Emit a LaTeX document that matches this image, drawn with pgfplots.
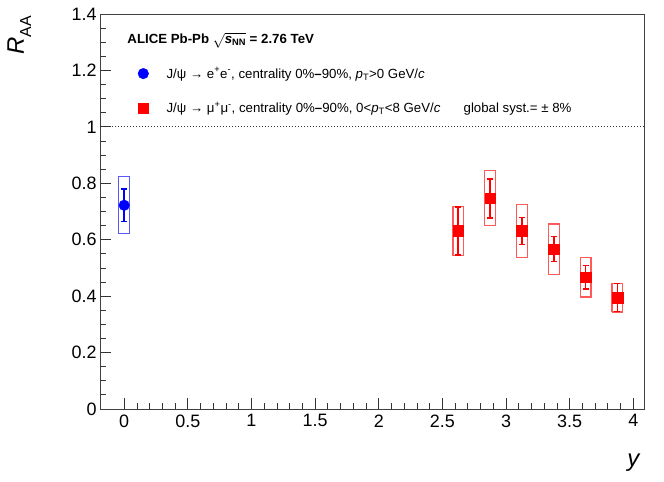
\documentclass[border=0pt]{standalone}
\usepackage{pgfplots}
\pgfplotsset{compat=1.18}
\usepackage{fontspec}
\setmainfont{Liberation Sans}
\begin{document}
\begin{tikzpicture}
\path[use as bounding box] (-100bp,-73bp) rectangle (564bp,409bp);
\begin{axis}[
  at={(0,0)}, anchor=south west,
  scale only axis, width=544bp, height=395bp,
  xmin=-0.19, xmax=4.084, ymin=0, ymax=1.4,
  xtick={0,0.5,...,4}, ytick={0,0.2,...,1.4},
  minor x tick num=4, minor y tick num=3,
  xtick pos=bottom, ytick pos=left, tick align=inside,
  major tick length=11bp, minor tick length=6bp,
  axis line style={black!75, line width=0.9bp},
  every tick/.style={black!80, line width=0.8bp},
  /pgf/number format/assume math mode=true,
  ticklabel style={font=\fontsize{18}{18}\selectfont},
  yticklabel style={/pgf/number format/fixed, /pgf/number format/precision=1},
  xticklabel style={/pgf/number format/fixed, /pgf/number format/precision=1, yshift=-2bp},
  ylabel={\fontsize{24}{24}\selectfont\textit{R}\raisebox{-0.3em}{\fontsize{16}{16}\selectfont AA}},
  ylabel style={at={(axis description cs:-0.14,1.003)}, anchor=base east, rotate=0},
  xlabel={\fontsize{24}{24}\selectfont\textit{y}},
  xlabel style={at={(axis description cs:1,-0.146)}, anchor=base east},
  unbounded coords=jump,
  legend cell align=left,
  legend style={at={(axis description cs:0.064,0.875)}, anchor=north west, draw=none, fill=none,
    font=\fontsize{13.3}{16}\selectfont, row sep=18.5bp, column sep=16bp},
]
% dotted line at 1
\addplot[forget plot, black!80, line width=0.8bp, dash pattern=on 1bp off 2bp] coordinates {(-0.19,1) (4.084,1)};
% systematic boxes
\addplot[forget plot, blue!65, line width=1.2bp] table {
x y
-0.042 0.621
0.042 0.621
0.042 0.823
-0.042 0.823
-0.042 0.621
};
\addplot[forget plot, red!65, line width=1.2bp] table {
x y
2.583 0.543
2.667 0.543
2.667 0.719
2.583 0.719
2.583 0.543
nan nan
2.833 0.650
2.917 0.650
2.917 0.844
2.833 0.844
2.833 0.650
nan nan
3.083 0.536
3.167 0.536
3.167 0.726
3.083 0.726
3.083 0.536
nan nan
3.333 0.478
3.417 0.478
3.417 0.656
3.333 0.656
3.333 0.478
nan nan
3.583 0.397
3.667 0.397
3.667 0.537
3.583 0.537
3.583 0.397
nan nan
3.833 0.344
3.917 0.344
3.917 0.446
3.833 0.446
3.833 0.344
};
% data
\addplot[only marks, blue, mark=*, mark size=5.3bp,
  error bars/.cd, y dir=both, y explicit,
  error bar style={line width=1.6bp},
  error mark options={rotate=90, mark size=3bp, line width=1.6bp}]
  table[y error=e] {
x y e
0 0.722 0.058
};
\addlegendentry{J/ψ → e\textsuperscript{+}e\textsuperscript{-}, centrality 0\%\textbf{–}90\%, \textit{p}\textsubscript{T}>0 GeV/\textit{c}}
\addplot[only marks, red, mark=square*, mark size=5.3bp,
  error bars/.cd, y dir=both, y explicit,
  error bar style={line width=1.6bp},
  error mark options={rotate=90, mark size=3bp, line width=1.6bp}]
  table[y error=e] {
x y e
2.625 0.631 0.086
2.875 0.747 0.069
3.125 0.631 0.048
3.375 0.567 0.044
3.625 0.467 0.041
3.875 0.395 0.050
};
\addlegendentry{J/ψ → μ\textsuperscript{+}μ\textsuperscript{-}, centrality 0\%\textbf{–}90\%, 0<\textit{p}\textsubscript{T}<8 GeV/\textit{c}}
\node[anchor=base west, font=\fontsize{13.3}{16}\selectfont\bfseries] at (axis description cs:0.044,0.925)
  {ALICE Pb-Pb $\sqrt{\mbox{\textbf{\textit{s}}\textsubscript{\textbf{NN}}}}$ = 2.76 TeV};
\node[anchor=base west, font=\fontsize{13.3}{16}\selectfont] at (axis description cs:0.662,0.751)
  {global syst.= ± 8\%};
\end{axis}
\end{tikzpicture}
\end{document}
